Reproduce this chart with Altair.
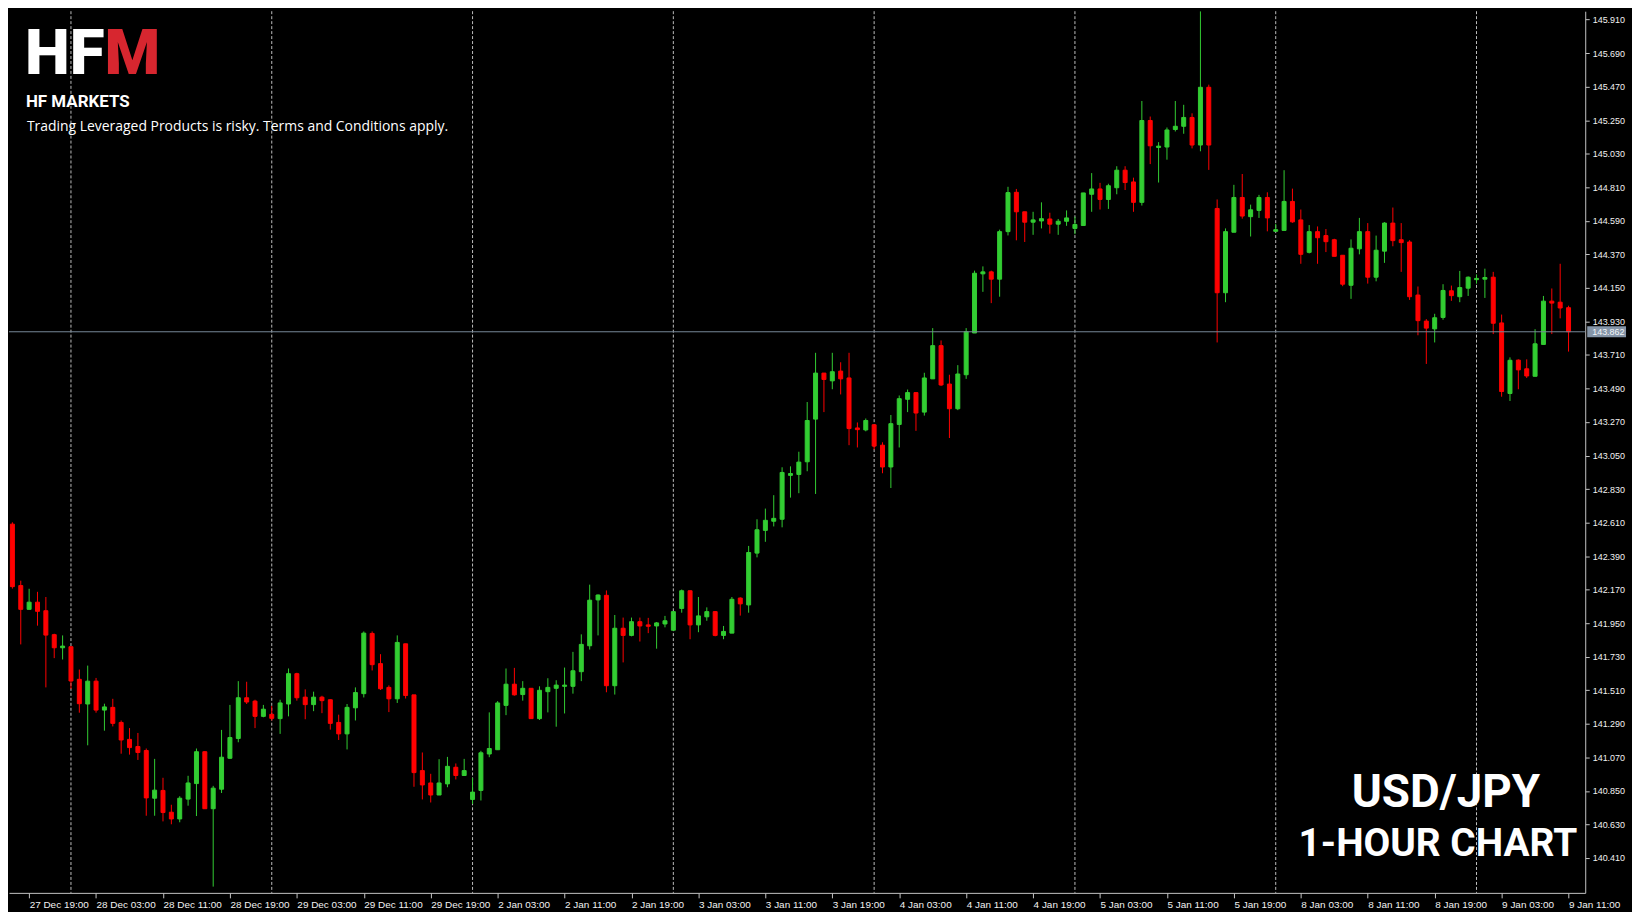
import json
import altair as alt
import pandas as pd

# ---------------- data (USD/JPY, 1-hour bars, index 0 = 28 Dec 00:00) ----------------
bar_index = list(range(-7, 180))

open_price = [
    142.600, 142.197, 142.041, 142.088, 142.032, 141.875, 141.789, 141.796, 141.582, 141.420,
    141.570, 141.380, 141.398, 141.299, 141.188, 141.141, 141.115, 140.802, 140.853, 140.710,
    140.666, 140.796, 140.898, 141.107, 140.733, 140.861, 141.064, 141.194, 141.461, 141.439,
    141.339, 141.352, 141.324, 141.420, 141.619, 141.465, 141.416, 141.465, 141.448, 141.299,
    141.224, 141.395, 141.488, 141.883, 141.685, 141.529, 141.454, 141.815, 141.480, 140.983,
    140.902, 140.823, 140.896, 141.005, 140.951, 140.794, 140.853, 141.092, 141.120, 141.411,
    141.550, 141.482, 141.523, 141.324, 141.501, 141.523, 141.536, 141.536, 141.632, 141.802,
    142.103, 142.133, 141.540, 141.917, 141.870, 141.960, 141.939, 141.932, 141.945, 141.904,
    142.047, 142.163, 141.939, 141.992, 142.026, 141.870, 141.885, 142.115, 142.070, 142.410,
    142.559, 142.619, 142.632, 142.920, 142.926, 143.009, 143.289, 143.591, 143.540, 143.604,
    143.559, 143.231, 143.218, 143.252, 143.118, 142.975, 143.254, 143.419, 143.463, 143.335,
    143.553, 143.771, 143.519, 143.357, 143.580, 143.854, 144.242, 144.255, 144.207, 144.519,
    144.777, 144.649, 144.581, 144.589, 144.602, 144.568, 144.587, 144.540, 144.559, 144.764,
    144.799, 144.730, 144.807, 144.922, 144.845, 144.711, 145.248, 145.071, 145.074, 145.189,
    145.210, 145.268, 145.087, 145.466, 144.671, 144.118, 144.515, 144.743, 144.617, 144.658,
    144.743, 144.521, 144.527, 144.717, 144.596, 144.383, 144.519, 144.493, 144.466, 144.364,
    144.167, 144.406, 144.519, 144.220, 144.391, 144.575, 144.466, 144.451, 144.103, 143.932,
    143.881, 143.956, 144.131, 144.092, 144.148, 144.204, 144.207, 144.220, 143.920, 143.457,
    143.676, 143.619, 143.570, 143.779, 144.063, 144.056, 144.020,
]

high_price = [
    142.612, 142.229, 142.176, 142.156, 142.122, 141.881, 141.870, 141.796, 141.646, 141.672,
    141.591, 141.422, 141.454, 141.312, 141.262, 141.230, 141.128, 141.060, 140.936, 140.759,
    140.815, 140.949, 141.128, 141.110, 140.883, 141.250, 141.414, 141.570, 141.566, 141.448,
    141.414, 141.407, 141.448, 141.653, 141.625, 141.516, 141.501, 141.474, 141.450, 141.350,
    141.420, 141.529, 141.896, 141.896, 141.747, 141.542, 141.870, 141.815, 141.480, 141.102,
    140.962, 141.058, 141.073, 141.030, 141.060, 140.936, 141.113, 141.365, 141.439, 141.653,
    141.657, 141.570, 141.523, 141.536, 141.589, 141.576, 141.659, 141.762, 141.877, 142.203,
    142.139, 142.165, 142.004, 141.987, 141.987, 141.987, 141.985, 141.958, 141.998, 142.028,
    142.171, 142.165, 142.122, 142.054, 142.030, 141.932, 142.122, 142.120, 142.457, 142.632,
    142.702, 142.790, 142.973, 142.979, 143.075, 143.401, 143.724, 143.591, 143.724, 143.662,
    143.724, 143.267, 143.293, 143.252, 143.137, 143.316, 143.444, 143.483, 143.463, 143.593,
    143.886, 143.805, 143.580, 143.643, 143.886, 144.263, 144.291, 144.263, 144.532, 144.813,
    144.799, 144.649, 144.649, 144.711, 144.643, 144.602, 144.658, 144.617, 144.773, 144.903,
    144.839, 144.833, 144.948, 144.948, 144.873, 145.376, 145.274, 145.106, 145.202, 145.376,
    145.351, 145.295, 145.965, 145.483, 144.730, 144.540, 144.826, 144.897, 144.696, 144.760,
    144.777, 144.570, 144.922, 144.801, 144.664, 144.562, 144.553, 144.536, 144.472, 144.364,
    144.468, 144.609, 144.575, 144.493, 144.581, 144.677, 144.575, 144.463, 144.159, 143.945,
    143.980, 144.174, 144.165, 144.261, 144.225, 144.238, 144.276, 144.255, 143.975, 143.694,
    143.681, 143.681, 143.879, 144.097, 144.146, 144.308, 144.033,
]

low_price = [
    142.177, 141.811, 142.041, 141.934, 141.529, 141.721, 141.712, 141.518, 141.363, 141.149,
    141.363, 141.245, 141.273, 141.094, 141.088, 141.053, 140.687, 140.687, 140.650, 140.631,
    140.644, 140.753, 140.685, 140.733, 140.222, 140.836, 141.060, 141.169, 141.420, 141.262,
    141.333, 141.312, 141.224, 141.339, 141.442, 141.320, 141.373, 141.360, 141.252, 141.184,
    141.122, 141.312, 141.463, 141.640, 141.512, 141.367, 141.427, 141.456, 140.877, 140.794,
    140.774, 140.823, 140.874, 140.925, 140.951, 140.764, 140.787, 141.071, 141.120, 141.347,
    141.475, 141.442, 141.324, 141.315, 141.365, 141.271, 141.358, 141.488, 141.570, 141.777,
    141.870, 141.497, 141.482, 141.693, 141.864, 141.830, 141.885, 141.783, 141.923, 141.904,
    142.019, 141.845, 141.891, 141.966, 141.864, 141.845, 141.885, 142.000, 142.019, 142.382,
    142.484, 142.585, 142.579, 142.774, 142.803, 142.947, 142.798, 143.335, 143.485, 143.451,
    143.118, 143.103, 143.209, 143.090, 142.934, 142.837, 143.103, 143.335, 143.212, 143.312,
    143.553, 143.506, 143.165, 143.348, 143.553, 143.854, 144.124, 144.050, 144.092, 144.494,
    144.462, 144.451, 144.498, 144.540, 144.506, 144.498, 144.557, 144.502, 144.559, 144.649,
    144.664, 144.668, 144.764, 144.792, 144.649, 144.690, 144.962, 144.841, 144.991, 145.176,
    145.161, 145.065, 145.046, 144.924, 143.792, 144.056, 144.515, 144.604, 144.487, 144.609,
    144.521, 144.521, 144.527, 144.577, 144.308, 144.376, 144.308, 144.385, 144.357, 144.161,
    144.078, 144.370, 144.178, 144.193, 144.314, 144.423, 144.255, 144.071, 143.839, 143.651,
    143.792, 143.941, 144.065, 144.056, 144.097, 144.178, 144.084, 143.847, 143.436, 143.408,
    143.485, 143.559, 143.570, 143.779, 143.847, 143.950, 143.732,
]

close_price = [
    142.190, 142.041, 142.088, 142.028, 141.872, 141.789, 141.800, 141.571, 141.422, 141.570,
    141.380, 141.401, 141.293, 141.184, 141.134, 141.102, 140.804, 140.855, 140.708, 140.666,
    140.802, 140.902, 141.107, 140.733, 140.868, 141.071, 141.200, 141.461, 141.433, 141.339,
    141.386, 141.326, 141.427, 141.619, 141.461, 141.416, 141.465, 141.442, 141.293, 141.224,
    141.398, 141.495, 141.885, 141.678, 141.520, 141.454, 141.824, 141.476, 140.970, 140.889,
    140.823, 140.902, 141.011, 140.951, 140.983, 140.842, 141.100, 141.128, 141.427, 141.550,
    141.480, 141.523, 141.324, 141.510, 141.529, 141.544, 141.544, 141.638, 141.811, 142.101,
    142.135, 141.540, 141.917, 141.870, 141.960, 141.932, 141.930, 141.952, 141.966, 142.026,
    142.163, 141.939, 141.998, 142.026, 141.870, 141.896, 142.107, 142.077, 142.414, 142.563,
    142.625, 142.638, 142.939, 142.932, 143.007, 143.280, 143.591, 143.549, 143.600, 143.553,
    143.227, 143.220, 143.280, 143.112, 142.975, 143.259, 143.423, 143.463, 143.329, 143.559,
    143.771, 143.513, 143.357, 143.585, 143.862, 144.246, 144.255, 144.207, 144.519, 144.775,
    144.649, 144.581, 144.596, 144.604, 144.568, 144.587, 144.609, 144.566, 144.773, 144.799,
    144.730, 144.820, 144.922, 144.841, 144.711, 145.248, 145.082, 145.080, 145.186, 145.210,
    145.268, 145.087, 145.466, 145.087, 144.118, 144.519, 144.743, 144.621, 144.662, 144.743,
    144.609, 144.532, 144.717, 144.583, 144.370, 144.519, 144.479, 144.453, 144.357, 144.174,
    144.410, 144.519, 144.220, 144.397, 144.575, 144.460, 144.447, 144.092, 143.935, 143.886,
    143.954, 144.133, 144.099, 144.152, 144.220, 144.212, 144.218, 143.918, 143.470, 143.675,
    143.612, 143.572, 143.783, 144.063, 144.050, 144.018, 143.862,
]

x_tick_bars = [-5, 3, 11, 19, 27, 35, 43, 51, 59, 67, 75, 83, 91, 99, 107, 115,
               123, 131, 139, 147, 155, 163, 171, 179]
x_tick_labels = ["27 Dec 19:00", "28 Dec 03:00", "28 Dec 11:00", "28 Dec 19:00",
                 "29 Dec 03:00", "29 Dec 11:00", "29 Dec 19:00", "2 Jan 03:00",
                 "2 Jan 11:00", "2 Jan 19:00", "3 Jan 03:00", "3 Jan 11:00",
                 "3 Jan 19:00", "4 Jan 03:00", "4 Jan 11:00", "4 Jan 19:00",
                 "5 Jan 03:00", "5 Jan 11:00", "5 Jan 19:00", "8 Jan 03:00",
                 "8 Jan 11:00", "8 Jan 19:00", "9 Jan 03:00", "9 Jan 11:00"]
y_tick_values = [140.41, 140.63, 140.85, 141.07, 141.29, 141.51, 141.73, 141.95,
                 142.17, 142.39, 142.61, 142.83, 143.05, 143.27, 143.49, 143.71,
                 143.93, 144.15, 144.37, 144.59, 144.81, 145.03, 145.25, 145.47,
                 145.69, 145.91]
day_start_bars = [0, 24, 48, 72, 96, 120, 144, 168]
last_price = [143.862]

# ---------------- chart ----------------
candles = pd.DataFrame({"i": bar_index, "open": open_price, "high": high_price,
                        "low": low_price, "close": close_price})
candles["dir"] = ["up" if c >= o else "down" for o, c in zip(open_price, close_price)]

W, H = 1584, 886
AXIS_GRAY = "#c4c4c4"
LABEL = "#f2f2f2"

x_scale = alt.Scale(domain=[-6.812, 180.40], nice=False, zero=False)
y_scale = alt.Scale(domain=[140.181, 145.965], nice=False, zero=False)
label_expr = f"{json.dumps(x_tick_labels)}[indexof({json.dumps(x_tick_bars)}, datum.value)]"

x_axis = alt.Axis(values=x_tick_bars, labelExpr=label_expr, title=None, grid=False,
                  orient="bottom", tickSize=5, labelAlign="left", labelBaseline="top",
                  labelPadding=2, labelOffset=0, labelFontSize=10, labelFlush=False,
                  labelOverlap=False, domainColor=AXIS_GRAY, tickColor=AXIS_GRAY,
                  labelColor=LABEL, labelFont="Liberation Sans")
y_axis = alt.Axis(values=y_tick_values, format=".3f", title=None, grid=False,
                  orient="right", tickSize=4, labelPadding=3, labelFontSize=9,
                  labelFlush=False, labelOverlap=False, domainColor=AXIS_GRAY,
                  tickColor=AXIS_GRAY, labelColor=LABEL, labelFont="Liberation Sans")
color_scale = alt.Scale(domain=["up", "down"], range=["#32cd32", "#ff0000"])

seps = alt.Chart(pd.DataFrame({"bar": day_start_bars})).mark_rule(
    color="#bdbdbd", strokeDash=[3, 2], strokeWidth=1
).encode(x=alt.X("bar:Q", scale=x_scale, axis=x_axis))

wicks = alt.Chart(candles).mark_rule(strokeWidth=1, clip=True).encode(
    x=alt.X("i:Q", scale=x_scale, axis=x_axis),
    y=alt.Y("low:Q", scale=y_scale, axis=y_axis),
    y2="high:Q",
    color=alt.Color("dir:N", scale=color_scale, legend=None),
)

bodies = alt.Chart(candles).mark_bar(size=4, strokeWidth=1, clip=True, orient="vertical").encode(
    x=alt.X("i:Q", scale=x_scale, axis=x_axis),
    y=alt.Y("open:Q", scale=y_scale, axis=y_axis),
    y2="close:Q",
    color=alt.Color("dir:N", scale=color_scale, legend=None),
    stroke=alt.Stroke("dir:N", scale=color_scale, legend=None),
)

price_df = pd.DataFrame({"p": last_price})
price_line = alt.Chart(price_df).mark_rule(color="#778899", strokeWidth=1).encode(
    y=alt.Y("p:Q", scale=y_scale, axis=y_axis)
)
price_box = alt.Chart(price_df).mark_rule(color="#8595a8", strokeWidth=11, strokeCap="butt").encode(
    y=alt.Y("p:Q", scale=y_scale, axis=y_axis), x=alt.value(W + 2), x2=alt.value(W + 41)
)
price_text = alt.Chart(price_df).mark_text(
    align="left", baseline="middle", fontSize=9, font="Liberation Sans", color="#f4f6f8"
).encode(
    y=alt.Y("p:Q", scale=y_scale, axis=y_axis), x=alt.value(W + 7),
    text=alt.Text("p:Q", format=".3f"),
)


def label(txt, x, y, size, color="#ffffff", weight="normal", align="left",
          font="Roboto", baseline="alphabetic"):
    return alt.Chart(pd.DataFrame({"t": [txt]})).mark_text(
        align=align, baseline=baseline, fontSize=size, fontWeight=weight,
        font=font, color=color
    ).encode(x=alt.value(x), y=alt.value(y), text="t:N")


logo_hf = label("HF", 96, 63, 64, weight=900, align="right")
logo_m = label("M", 96, 63, 64, color="#d7262f", weight=900, align="left")
logo_sub = label("HF MARKETS", 17, 96, 17, weight="bold")
disclaimer = label("Trading Leveraged Products is risky. Terms and Conditions apply.",
                   18, 120, 14, font="Open Sans")
pair = label("USD/JPY", 1444, 800, 46, weight="bold", align="center")
timeframe = label("1-HOUR CHART", 1436, 849, 39, weight="bold", align="center")

chart = alt.layer(
    seps, wicks, bodies, price_line, price_box, price_text,
    logo_hf, logo_m, logo_sub, disclaimer, pair, timeframe,
).properties(
    width=W, height=H, padding=0, background="#000000"
).configure_view(strokeWidth=0)

chart.save("out.html", embed_options={"renderer": "svg", "actions": False})
